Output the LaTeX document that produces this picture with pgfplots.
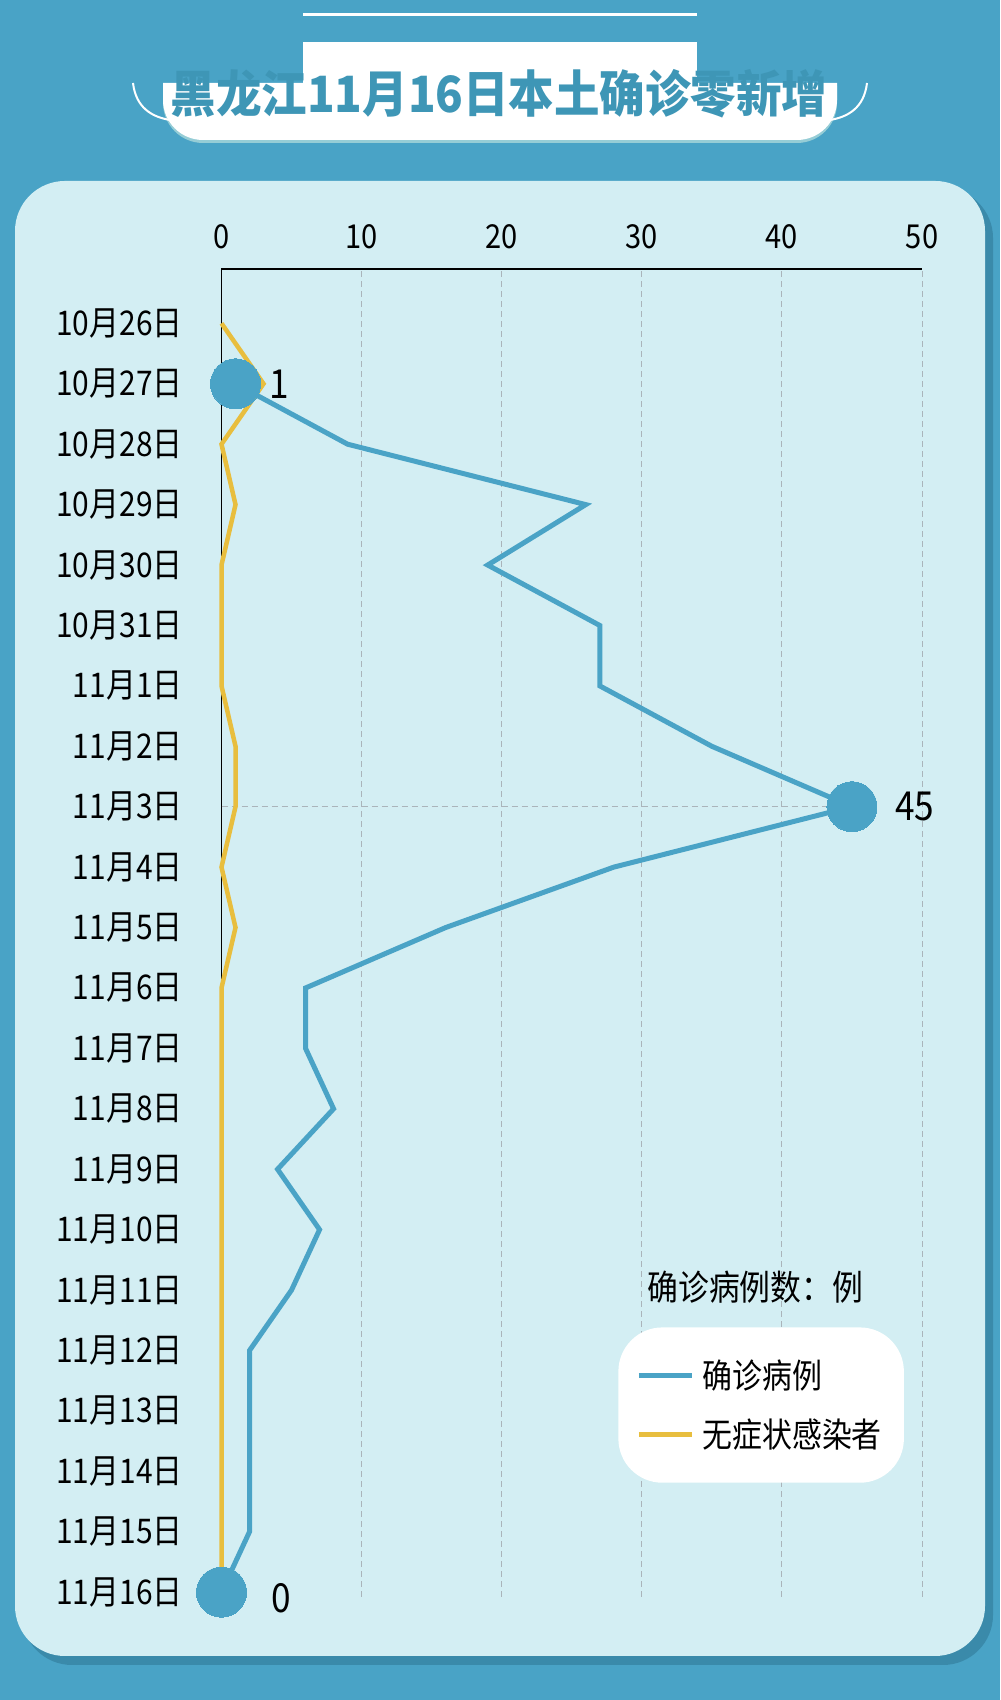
\documentclass[border=0pt]{standalone}
\usepackage{pgfplots}
\pgfplotsset{compat=1.18}
\usepackage{fontspec}
\setmainfont{Noto Sans CJK SC}[FakeStretch=0.88]
\newfontfamily\titlefont{Noto Sans CJK SC}[FakeStretch=0.91]
\definecolor{bgblue}{RGB}{73,163,198}
\definecolor{shadowblue}{RGB}{58,138,170}
\definecolor{panel}{RGB}{211,238,243}
\definecolor{bannershadow}{RGB}{150,205,214}
\definecolor{titleblue}{RGB}{62,150,182}
\definecolor{lineblue}{RGB}{74,163,198}
\definecolor{lineyellow}{RGB}{232,190,62}
\definecolor{gridgray}{RGB}{170,180,186}

\begin{document}
\begin{tikzpicture}[x=0.5pt,y=0.5pt]
\fill[bgblue] (0,0) rectangle (1000,1700);

% panel
\fill[shadowblue, rounded corners=25pt] (22,35) rectangle (993,1512);
\fill[panel, rounded corners=25pt] (15,44) rectangle (985,1519);

% title banner
\fill[bannershadow] (163,1614) [rounded corners=20pt] -- (163,1557) -- (837,1557) [sharp corners] -- (837,1614) -- cycle;
\fill[white] (163,1617) [rounded corners=20pt] -- (163,1560) -- (837,1560) [sharp corners] -- (837,1617) -- cycle;
\fill[white] (303,1614) rectangle (697,1658);
\draw[white, line width=1.5pt] (303,1685) -- (697,1685);
\draw[white, line width=1pt] (133,1617) .. controls (136,1592) and (152,1583) .. (170,1580);
\draw[white, line width=1pt] (867,1617) .. controls (864,1592) and (848,1583) .. (830,1580);
\node[anchor=base, inner sep=0pt, text=titleblue, font=\titlefont\bfseries\fontsize{25}{30}\selectfont]
  at (499,1587) {黑龙江11月16日本土确诊零新增};

\begin{axis}[
  at={(110.75pt,51.5pt)}, anchor=south west,
  scale only axis, width=350.25pt, height=664pt,
  xmin=0, xmax=50, ymin=-0.08, ymax=21.9,
  xtick={0,10,...,50}, xticklabel pos=upper,
  ytick={0,...,21},
  yticklabels={11月16日,11月15日,11月14日,11月13日,11月12日,11月11日,11月10日,
    11月9日,11月8日,11月7日,11月6日,11月5日,11月4日,11月3日,11月2日,11月1日,
    10月31日,10月30日,10月29日,10月28日,10月27日,10月26日},
  axis line style={draw=none},
  major tick length=0pt,
  xmajorgrids,
  grid style={gridgray, line width=0.5pt, dash pattern=on 3pt off 2pt},
  /pgf/number format/assume math mode=true,
  xticklabel style={font=\fontsize{16.5}{18}\selectfont, anchor=center, yshift=16pt},
  yticklabel style={font=\fontsize{17}{20}\selectfont, anchor=east, inner sep=0pt, xshift=-19.25pt},
  legend style={at={(0.566,0.2033)}, anchor=north west, fill=white, draw=none,
    rounded corners=22pt, inner xsep=9pt, inner ysep=14.25pt, row sep=9.5pt,
    font=\fontsize{17}{20}\selectfont,
    /tikz/every odd column/.append style={column sep=2pt}},
  legend cell align=left,
  legend image code/.code={\draw[#1, line width=2.5pt] (0pt,0pt) -- (26.5pt,0pt);},
  clip=false,
]
% axis lines and reference line
\draw[black, line width=0.75pt] (axis cs:0,-0.08) -- (axis cs:0,21.9) -- (axis cs:50,21.9);
\draw[gridgray, line width=0.5pt, dash pattern=on 3pt off 2pt] (axis cs:0,13) -- (axis cs:45,13);

% asymptomatic
\addplot[lineyellow, line width=2.25pt, forget plot] coordinates {
  (0,21)(3,20)(0,19)(1,18)(0,17)(0,16)(0,15)(1,14)(1,13)(0,12)(1,11)
  (0,10)(0,9)(0,8)(0,7)(0,6)(0,5)(0,4)(0,3)(0,2)(0,1)(0,0)};
% confirmed
\addplot[lineblue, line width=2.5pt] coordinates {
  (1,20)(9,19)(26,18)(19,17)(27,16)(27,15)(35,14)(45,13)(28,12)(16,11)
  (6,10)(6,9)(8,8)(4,7)(7,6)(5,5)(2,4)(2,3)(2,2)(2,1)(0,0)};
\addlegendentry{确诊病例}
\addlegendimage{lineyellow}
\addlegendentry{无症状感染者}
\addplot[lineblue, only marks, mark=*, mark size=12.5pt, mark options={solid, fill=lineblue, draw=lineblue, line width=0pt}, forget plot]
  coordinates {(1,20)(45,13)(0,0)};

\node[anchor=west, inner sep=0pt, font=\fontsize{20}{24}\selectfont, xshift=17pt] at (axis cs:1,20) {1};
\node[anchor=west, inner sep=0pt, font=\fontsize{20}{24}\selectfont, xshift=21.5pt] at (axis cs:45,13) {45};
\node[anchor=west, inner sep=0pt, font=\fontsize{20}{24}\selectfont, xshift=25pt, yshift=-3pt] at (axis cs:0,0) {0};
\end{axis}

\node[anchor=west, inner sep=0pt, font=\fontsize{17.5}{20}\selectfont] at (647,413) {确诊病例数：例};
\end{tikzpicture}
\end{document}
